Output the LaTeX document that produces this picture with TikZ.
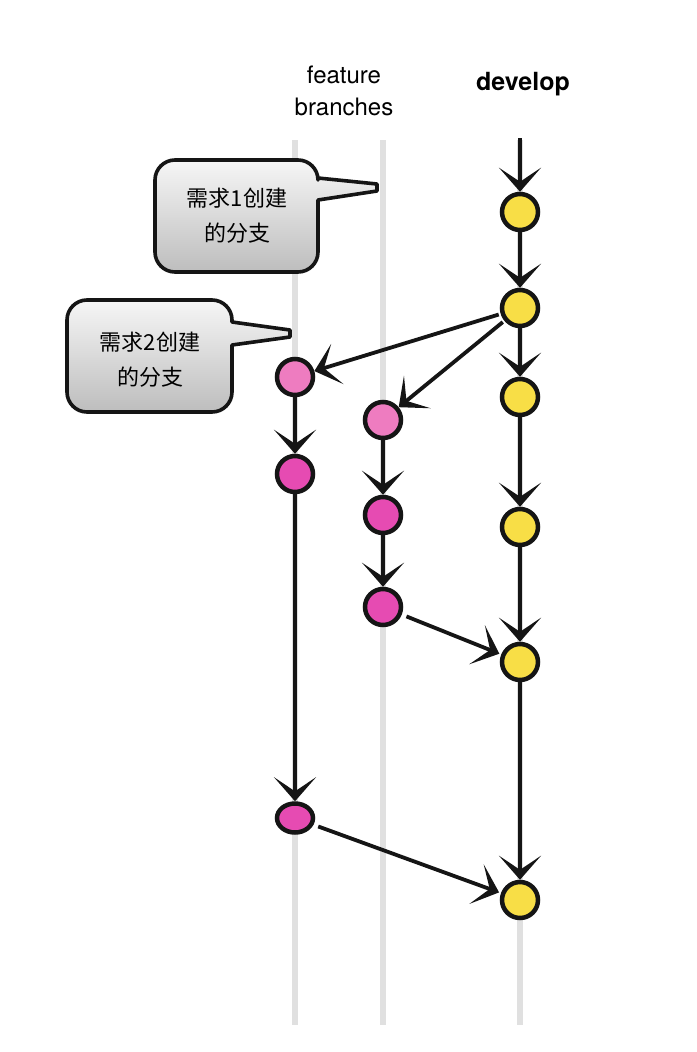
\documentclass[tikz,border=0pt]{standalone}
\usepackage{fontspec}
\setmainfont{TeX Gyre Heros}
\newfontfamily\cjk{Noto Sans CJK SC}
\usetikzlibrary{arrows.meta,shapes.geometric}
\definecolor{cyellow}{HTML}{F8DE46}
\definecolor{cpinkl}{HTML}{EE7CC0}
\definecolor{cpink}{HTML}{E64BB2}
\definecolor{lanegray}{HTML}{E0E0E0}
\definecolor{boxtop}{HTML}{F6F6F6}
\definecolor{boxbot}{HTML}{BDBDBD}
\definecolor{ink}{HTML}{151515}
\begin{document}
\begin{tikzpicture}[x=1pt,y=-1pt,
  commit/.style={circle,draw=ink,line width=4.5pt,minimum size=36pt,inner sep=0pt},
  dev/.style={commit,fill=cyellow},
  feat/.style={commit,fill=cpink},
  featl/.style={commit,fill=cpinkl},
  flow/.style={line width=3.8pt,draw=ink,-{Stealth[length=24pt,width=42pt,inset=14pt]}},
  lanestyle/.style={line width=5.5pt,draw=lanegray},
  bubblefill/.style={top color=boxtop,bottom color=boxbot},
  bubbleline/.style={draw=ink,line width=3.6pt,line join=round},
  bubbletext/.style={font=\cjk\fontsize{22}{35}\selectfont,align=center,text=black},
  header/.style={font=\fontsize{24}{32}\selectfont,align=center,text=black}
]
\useasboundingbox (0,0) rectangle (696,1052);

% lanes
\coordinate (l2t) at (295,140); \coordinate (l2b) at (295,1025);
\coordinate (l1t) at (383,140); \coordinate (l1b) at (383,1025);
\coordinate (ldt) at (520,140); \coordinate (ldb) at (520,1025);
\draw[lanestyle] (l2t) -- (l2b);
\draw[lanestyle] (l1t) -- (l1b);
\draw[lanestyle] (ldt) -- (ldb);

% headers
\node[header] (hfeat) at (344,91) {feature\\branches};
\node[header,font=\bfseries\fontsize{25}{32}\selectfont] (hdev) at (523,84) {develop};

% callout 1
\coordinate (p1) at (377,187);
\shadedraw[bubblefill,bubbleline] (155,216) [rounded corners=20pt] -- (155,160) -- (318,160) [sharp corners] -- (318,178) -- (377,184) -- (377,191) -- (318,200) [rounded corners=20pt] -- (318,272) -- (155,272) -- cycle;
\node[bubbletext] (c1) at (237,216) {需求1创建\\的分支};

% callout 2
\coordinate (p2) at (290,333);
\shadedraw[bubblefill,bubbleline] (67,356) [rounded corners=20pt] -- (67,300) -- (232,300) [sharp corners] -- (232,322) -- (290,330) -- (290,337) -- (232,345) [rounded corners=20pt] -- (232,412) -- (67,412) -- cycle;
\node[bubbletext] (c2) at (150,360) {需求2创建\\的分支};

% develop commits
\coordinate (dstart) at (520,138);
\node[dev] (d1) at (520,212) {};
\node[dev] (d2) at (520,308) {};
\node[dev] (d3) at (520,397) {};
\node[dev] (d4) at (520,527) {};
\node[dev] (d5) at (520,662) {};
\node[dev] (d6) at (520,900) {};

% feature 1 commits
\node[featl] (a1) at (383,420) {};
\node[feat] (a2) at (383,515) {};
\node[feat] (a3) at (383,607) {};

% feature 2 commits
\node[featl] (b1) at (295,377) {};
\node[feat] (b2) at (295,474) {};
\node[feat,ellipse,minimum width=36pt,minimum height=29pt] (b3) at (295,818) {};

% develop flow
\draw[flow] (dstart) -- (d1);
\draw[flow] (d1) -- (d2);
\draw[flow] (d2) -- (d3);
\draw[flow] (d3) -- (d4);
\draw[flow] (d4) -- (d5);
\draw[flow] (d5) -- (d6);

% branching
\draw[flow,shorten <=2pt] (d2) -- (b1);
\draw[flow,shorten <=2pt] (d2) -- (a1);

% feature 1
\draw[flow] (a1) -- (a2);
\draw[flow] (a2) -- (a3);
\draw[flow,shorten <=5pt,shorten >=2pt] (a3) -- (d5);

% feature 2
\draw[flow] (b1) -- (b2);
\draw[flow] (b2) -- (b3);
\draw[flow,shorten <=5pt,shorten >=2pt] (b3) -- (d6);
\end{tikzpicture}
\end{document}
